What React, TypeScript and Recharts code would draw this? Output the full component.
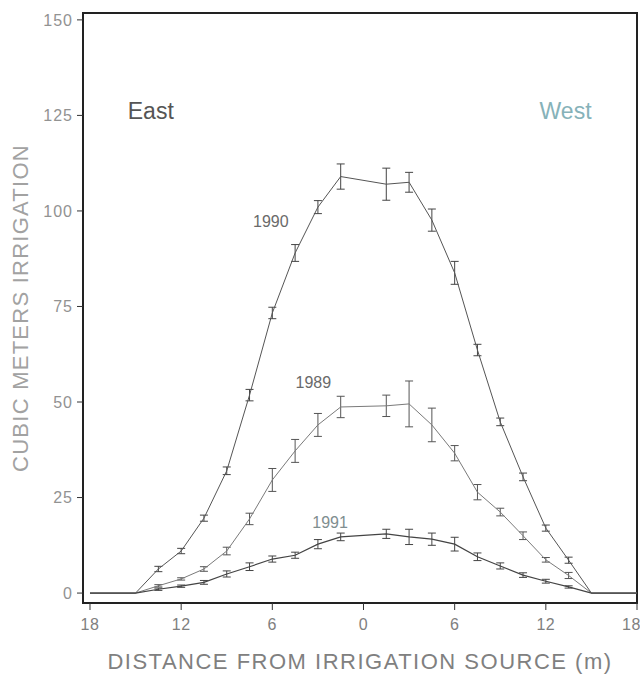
import React from 'react';
import {
  LineChart,
  Line,
  XAxis,
  YAxis,
  ErrorBar,
  ReferenceArea,
  ReferenceDot,
} from 'recharts';

// Distance from the irrigation source (m); negative = East side
const DISTANCE = [-18, -15, -13.5, -12, -10.5, -9, -7.5, -6, -4.5, -3, -1.5, 1.5, 3, 4.5, 6, 7.5, 9, 10.5, 12, 13.5, 15, 18];

// Cubic meters of irrigation per year
const Y1990 = [0, 0, 6.3, 11, 19.6, 32, 51.8, 73.3, 89, 101, 109, 107, 107.5, 97.6, 83.8, 63.6, 44.8, 30.4, 17, 8.6, 0, 0];
const Y1989 = [0, 0, 1.9, 3.7, 6.3, 11, 19.4, 29.6, 37.2, 44, 48.7, 49, 49.5, 44, 36.6, 26.4, 21.2, 15, 8.7, 4.6, 0, 0];
const Y1991 = [0, 0, 1, 1.8, 2.8, 5, 6.9, 8.9, 9.9, 12.8, 14.7, 15.5, 14.7, 14.1, 12.8, 9.5, 7.1, 4.7, 3.1, 1.6, 0, 0];

// Error bars (+/-)
const E1990 = [null, null, 0.7, 0.7, 0.8, 1, 1.5, 1.5, 2.2, 1.7, 3.3, 4.2, 2.6, 2.9, 3, 1.5, 1, 1, 0.8, 0.8, null, null];
const E1989 = [null, null, 0.3, 0.3, 0.6, 1, 1.5, 3, 3, 3, 2.8, 2.8, 6, 4.4, 2, 2, 1, 1, 0.6, 0.8, null, null];
const E1991 = [null, null, 0.3, 0.3, 0.5, 0.8, 1, 0.8, 0.8, 1.2, 1, 1.2, 2, 1.6, 1.8, 1, 0.8, 0.6, 0.5, 0.3, null, null];

const X_TICKS = [-18, -12, -6, 0, 6, 12, 18];
const Y_TICKS = [0, 25, 50, 75, 100, 125, 150];
const X_DOMAIN = [-18.46, 18];
const Y_DOMAIN = [-2.6, 151.8];

const FONT = '"Liberation Sans", Arial, sans-serif';

const data = DISTANCE.map((x, i) => ({
  x,
  y90: Y1990[i],
  y89: Y1989[i],
  y91: Y1991[i],
  e90: E1990[i] ?? undefined,
  e89: E1989[i] ?? undefined,
  e91: E1991[i] ?? undefined,
}));

const YLabel = (props: any) => {
  const vb = props.viewBox || { x: 0, y: 0, height: 0 };
  const cx = vb.x - 3;
  const cy = vb.y + vb.height / 2;
  return (
    <text
      x={cx}
      y={cy}
      transform={`rotate(-90 ${cx} ${cy})`}
      textAnchor="middle"
      dominantBaseline="central"
      fontFamily={FONT}
      fontSize={22}
      fill="#a2a2a2"
      letterSpacing={1.25}
    >
      CUBIC METERS IRRIGATION
    </text>
  );
};

const annotation = (value: string, fill: string, fontSize: number) => ({
  value,
  position: 'center' as const,
  fill,
  fontSize,
  fontFamily: FONT,
});

export default function App() {
  return (
    <div style={{ position: 'absolute', left: 0, top: 0, background: '#fff' }}>
      <LineChart
        width={640}
        height={679}
        data={data}
        margin={{ top: 13, right: 3, bottom: 46, left: 23 }}
      >
        <XAxis
          dataKey="x"
          type="number"
          domain={X_DOMAIN}
          ticks={X_TICKS}
          allowDataOverflow
          tickFormatter={(v: number) => String(Math.abs(v))}
          tick={{ fill: '#808080', fontSize: 16, fontFamily: FONT, letterSpacing: 0.5 }}
          tickSize={7}
          tickMargin={9}
          axisLine={{ stroke: '#222', strokeWidth: 2 }}
          tickLine={{ stroke: '#333' }}
          height={30}
          label={{
            value: 'DISTANCE FROM IRRIGATION SOURCE (m)',
            position: 'bottom',
            offset: 20,
            fill: '#808080',
            fontSize: 22,
            fontFamily: FONT,
            letterSpacing: 1.5,
          }}
        />
        <YAxis
          type="number"
          domain={Y_DOMAIN}
          ticks={Y_TICKS}
          allowDataOverflow
          width={60}
          tick={{ fill: '#929292', fontSize: 16, fontFamily: FONT, letterSpacing: 1 }}
          tickSize={6}
          tickMargin={4}
          axisLine={{ stroke: '#222', strokeWidth: 2 }}
          tickLine={{ stroke: '#333' }}
          label={{ content: YLabel }}
        />
        <ReferenceArea
          x1={X_DOMAIN[0]}
          x2={X_DOMAIN[1]}
          y1={Y_DOMAIN[0]}
          y2={Y_DOMAIN[1]}
          fill="none"
          stroke="#222"
          strokeWidth={2}
        />
        <Line
          type="linear"
          dataKey="y90"
          stroke="#555"
          strokeWidth={1}
          dot={false}
          isAnimationActive={false}
        >
          <ErrorBar dataKey="e90" width={4} stroke="#444" strokeWidth={1} direction="y" />
        </Line>
        <Line
          type="linear"
          dataKey="y89"
          stroke="#7a7a7a"
          strokeWidth={1}
          dot={false}
          isAnimationActive={false}
        >
          <ErrorBar dataKey="e89" width={4} stroke="#555" strokeWidth={1} direction="y" />
        </Line>
        <Line
          type="linear"
          dataKey="y91"
          stroke="#444"
          strokeWidth={1.2}
          dot={false}
          isAnimationActive={false}
        >
          <ErrorBar dataKey="e91" width={4} stroke="#444" strokeWidth={1} direction="y" />
        </Line>
        <ReferenceDot x={-14} y={126.2} r={0} stroke="none" label={annotation('East', '#555', 23)} />
        <ReferenceDot x={13.3} y={126.2} r={0} stroke="none" label={annotation('West', '#86b2b9', 23)} />
        <ReferenceDot x={-6.1} y={97.4} r={0} stroke="none" label={annotation('1990', '#6a6a6a', 16)} />
        <ReferenceDot x={-3.3} y={55.2} r={0} stroke="none" label={annotation('1989', '#6a6a6a', 16)} />
        <ReferenceDot x={-2.2} y={18.6} r={0} stroke="none" label={annotation('1991', '#7f8e90', 16)} />
      </LineChart>
    </div>
  );
}
